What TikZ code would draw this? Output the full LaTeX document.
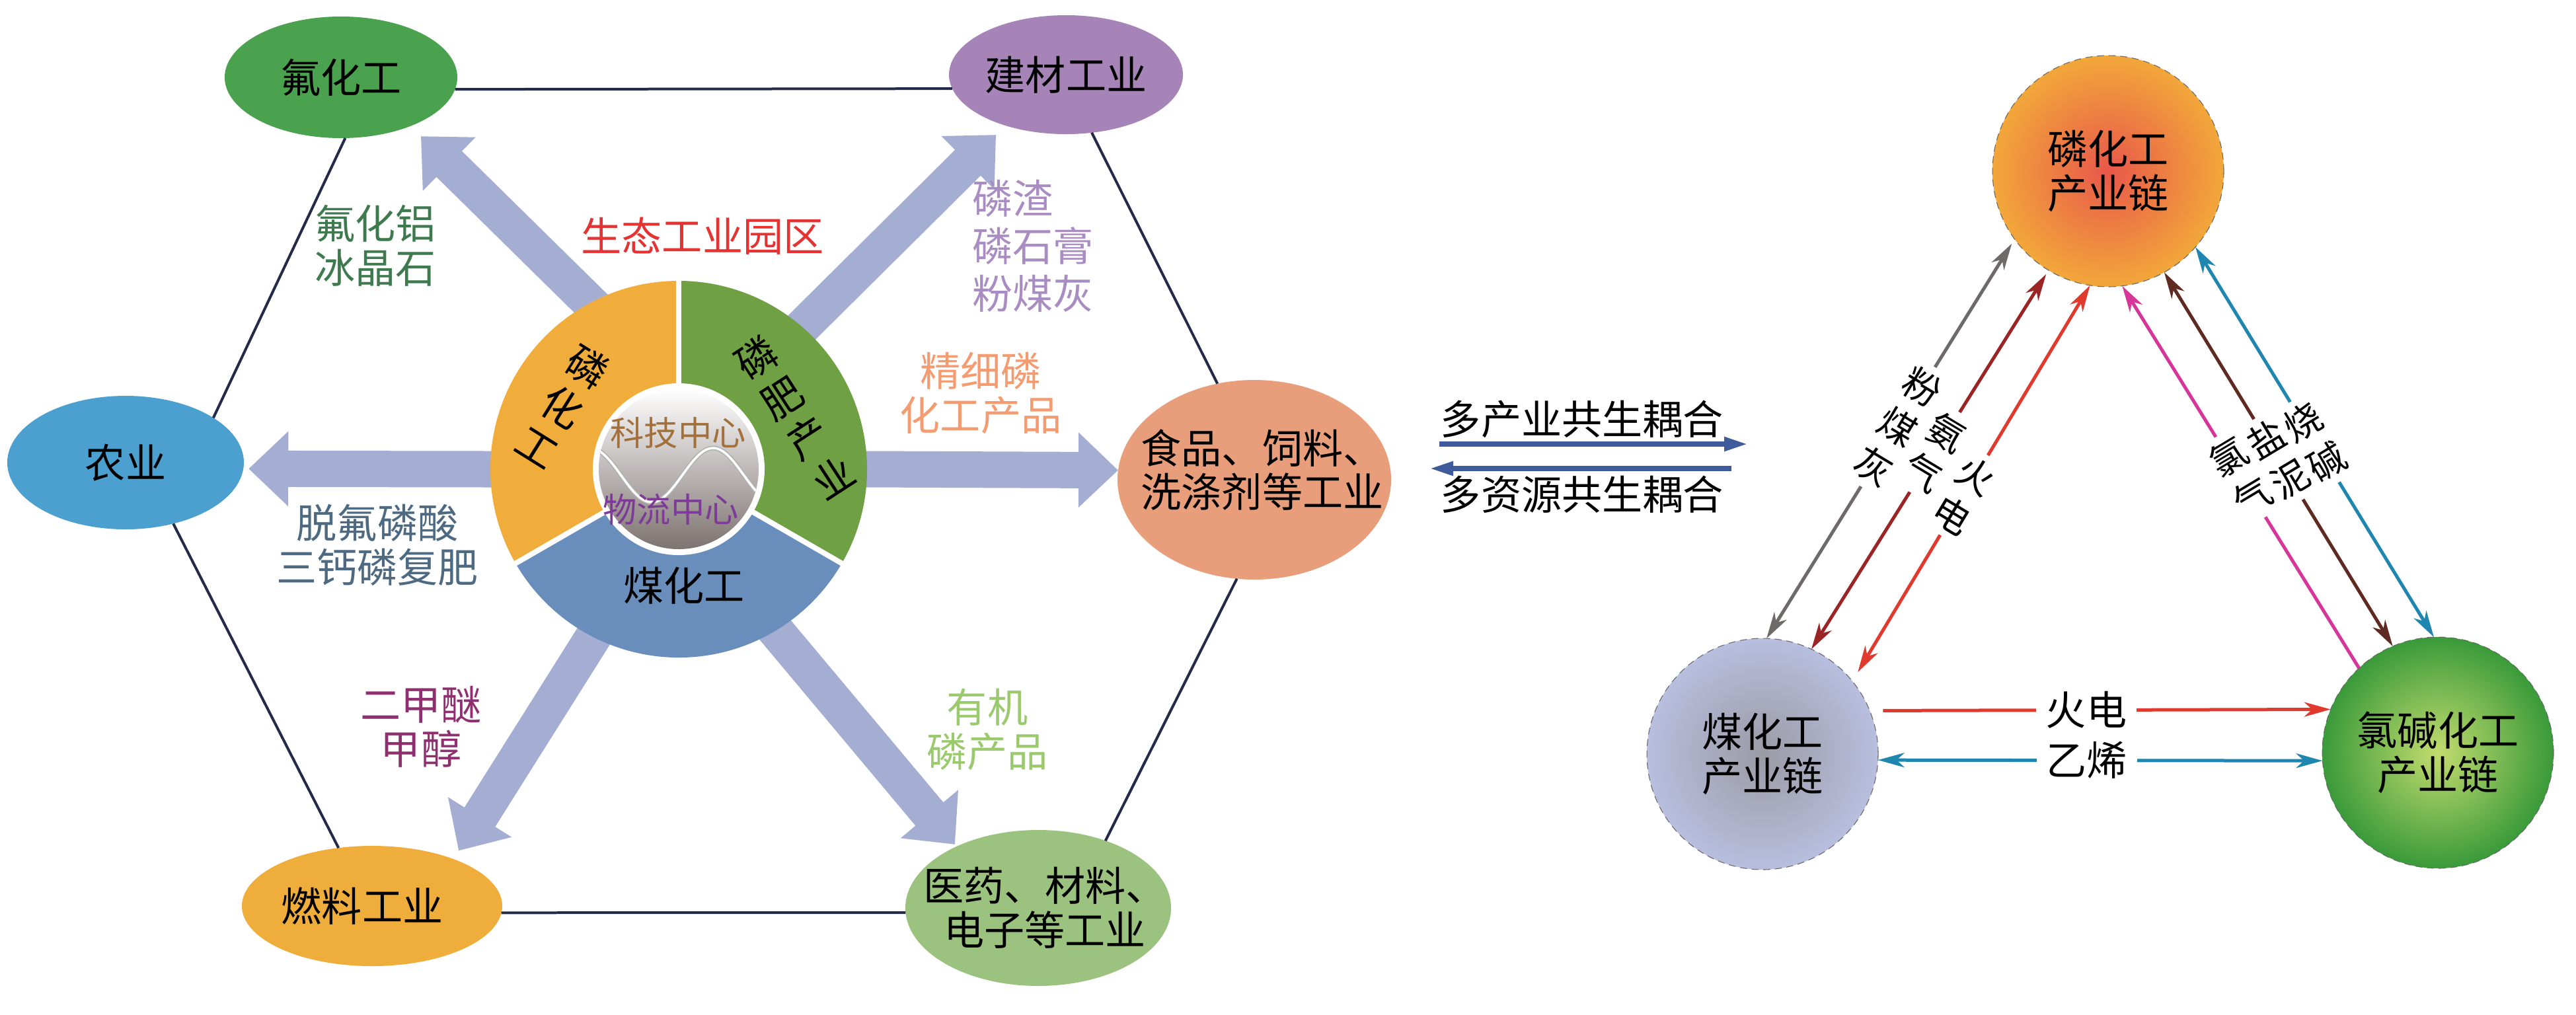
\documentclass[tikz,border=0pt]{standalone}
\usepackage{fontspec}
\usetikzlibrary{arrows.meta, shapes.geometric, positioning}
\newfontfamily\cjk{Noto Sans CJK SC}
\newcommand\zh{\cjk\fontsize{17.4pt}{19pt}\selectfont}
\newcommand\zhv{\cjk\fontsize{17.4pt}{20.5pt}\selectfont}
\newcommand\zhl{\cjk\fontsize{16pt}{20pt}\selectfont}
\newcommand\zhs{\cjk\fontsize{14.6pt}{17pt}\selectfont}

\definecolor{hexln}{RGB}{35,43,72}
\definecolor{pale}{RGB}{164,174,211}
\definecolor{fluc}{RGB}{74,161,78}
\definecolor{bldc}{RGB}{167,132,183}
\definecolor{agrc}{RGB}{76,160,207}
\definecolor{fodc}{RGB}{233,158,123}
\definecolor{fuec}{RGB}{239,174,60}
\definecolor{medc}{RGB}{155,194,126}
\definecolor{orng}{RGB}{240,173,60}
\definecolor{grn}{RGB}{112,160,68}
\definecolor{blu}{RGB}{106,142,188}
\definecolor{innermid}{RGB}{232,230,229}
\definecolor{innerbot}{RGB}{125,115,112}
\definecolor{tfl}{RGB}{63,122,79}
\definecolor{tred}{RGB}{229,50,50}
\definecolor{tbld}{RGB}{169,141,194}
\definecolor{tfod}{RGB}{243,155,113}
\definecolor{tagr}{RGB}{77,106,130}
\definecolor{tfue}{RGB}{142,48,112}
\definecolor{tmed}{RGB}{155,201,110}
\definecolor{tsci}{RGB}{162,112,60}
\definecolor{tlog}{RGB}{125,59,151}
\definecolor{cpl}{RGB}{63,91,156}
\definecolor{lgry}{RGB}{110,106,106}
\definecolor{ldrd}{RGB}{155,37,37}
\definecolor{lred}{RGB}{224,58,46}
\definecolor{lmag}{RGB}{214,53,154}
\definecolor{lbrn}{RGB}{94,42,34}
\definecolor{ltea}{RGB}{31,134,176}

\tikzset{
  ell/.style={ellipse, inner sep=0pt, outer sep=0pt},
  hexline/.style={hexln, line width=0.04cm},
  bigarrow/.style={pale, line width=0.55cm, -{Triangle[width=1.1cm, length=0.6cm]}, shorten <=-0.4cm},
  couple/.style={cpl, line width=0.08cm, -{Triangle[width=0.2cm, length=0.36cm]}},
  chainc/.style={circle, minimum size=3.5cm, inner sep=0pt, outer sep=0pt, draw=black!60, densely dashed, line width=0.3pt, align=center},
  link/.style={line width=0.05cm},
  lbl/.style={fill=white, text=black, align=center, font=\zhl, inner xsep=0pt, inner ysep=0.1cm},
  blbl/.style={fill=white, text=black, inner xsep=0.15cm, inner ysep=0pt},
  >={Stealth[length=0.4cm, width=0.22cm, inset=0.12cm]}
}

\begin{document}
\begin{tikzpicture}[every node/.style={font=\zh, inner sep=1pt}]
\useasboundingbox (0,0) rectangle (38.98,-15.35);
\fill[white] (0,0) rectangle (38.98,-15.35);

% left: industries round the park
\node[ell, fill=fluc, minimum width=3.52cm, minimum height=1.84cm, label={center:氟化工}] (fluoro) at (5.16,-1.17) {};
\node[ell, fill=bldc, minimum width=3.54cm, minimum height=1.80cm, label={center:建材工业}] (build) at (16.13,-1.13) {};
\node[ell, fill=agrc, minimum width=3.58cm, minimum height=2.02cm, label={center:农业}] (agri) at (1.90,-7.00) {};
\node[ell, fill=fodc, minimum width=4.14cm, minimum height=3.02cm,
  label={[align=center, xshift=0.12cm, yshift=0.15cm]center:{食品、饲料、\\洗涤剂等工业}}] (food) at (18.98,-7.26) {};
\node[ell, fill=fuec, minimum width=3.94cm, minimum height=1.82cm, label={[xshift=-0.15cm]center:燃料工业}] (fuel) at (5.63,-13.71) {};
\node[ell, fill=medc, minimum width=4.02cm, minimum height=2.36cm,
  label={[align=center, xshift=0.1cm]center:{医药、材料、\\电子等工业}}] (med) at (15.71,-13.74) {};
\node[circle, minimum size=5.7cm, inner sep=0pt, outer sep=0pt] (ring) at (10.27,-7.10) {};

\foreach \a/\p/\b/\q in {fluoro/-6/build/187, build/-66/food/111, food/-100/med/45,
                         med/182/fuel/-3, fuel/120/agri/-52, agri/27/fluoro/-86}
  \draw[hexline] (\a.\p) -- (\b.\q);

\foreach \t/\p/\q/\s in {fluoro/118/-35/0.22, build/49/-140/0.20, agri/180/-3/0.08,
                         food/0/176/0, fuel/-117/30/0.15, med/-59/143/0.04}
  \draw[bigarrow, shorten >=\s cm] (ring.\p) -- (\t.\q);

% the park
\fill[orng] (ring.center) -- ++(90:2.85) arc[start angle=90, end angle=210, radius=2.85] -- cycle;
\fill[blu] (ring.center) -- ++(210:2.85) arc[start angle=210, end angle=330, radius=2.85] -- cycle;
\fill[grn] (ring.center) -- ++(-30:2.85) arc[start angle=-30, end angle=90, radius=2.85] -- cycle;
\foreach \a in {90,210,330}
  \draw[white, line width=0.08cm] (ring.center) -- ++(\a:2.9);
\fill[white] (ring.center) circle (1.3);
\begin{scope}
  \clip (ring.center) circle (1.21);
  \shade[top color=white, middle color=innermid, bottom color=innerbot] (ring.center) circle (1.21);
  \draw[gray!60, line width=0.07cm] plot[domain=8.8:11.7, samples=80, smooth] (\x, {-7.19-0.41*cos(deg(2*pi*(\x-9.86)/1.86))});
  \draw[white, line width=0.035cm] plot[domain=8.8:11.7, samples=80, smooth] (\x, {-7.19-0.41*cos(deg(2*pi*(\x-9.86)/1.86))});
\end{scope}

\node[font=\zhv, align=center, rotate=-32] (rl) at (8.52,-6.14) {磷\\化\\工};
\node[font=\zhv, align=center, rotate=33] (rr) at (12.02,-6.31) {磷\\肥\\产\\业};
\node (rb) at (10.35,-8.86) {煤化工};
\node[font=\zhs, text=tsci] (sci) at (10.26,-6.55) {科技中心};
\node[font=\zhs, text=tlog] (logi) at (10.15,-7.71) {物流中心};

\node[text=tred] (park) at (10.63,-3.57) {生态工业园区};
\node[text=tfl, align=center] (alf) at (5.68,-3.72) {氟化铝\\冰晶石};
\node[text=tbld, align=left, font=\zhv] (slag) at (15.63,-3.72) {磷渣\\磷石膏\\粉煤灰};
\node[text=tfod, align=center] (fine) at (14.84,-5.95) {精细磷\\化工产品};
\node[text=tagr, align=center] (defl) at (5.71,-8.25) {脱氟磷酸\\三钙磷复肥};
\node[text=tfue, align=center] (dme) at (6.37,-11.0) {二甲醚\\甲醇};
\node[text=tmed, align=center] (orgp) at (14.94,-11.04) {有机\\磷产品};

% coupling
\node (mi) at (23.94,-6.34) {多产业共生耦合};
\node (mr) at (23.94,-7.48) {多资源共生耦合};
\coordinate (m1) at (21.78,-6.72);
\coordinate (m2) at (26.45,-6.72);
\coordinate (m3) at (26.20,-7.09);
\coordinate (m4) at (21.63,-7.09);
\draw[couple] (m1) -- (m2);
\draw[couple] (m3) -- (m4);

% right: three chains
\node[chainc, inner color={rgb,255:red,232;green,87;blue,74}, outer color={rgb,255:red,242;green,167;blue,58}] (phos) at (31.90,-2.59) {磷化工\\产业链};
\node[chainc, inner color={rgb,255:red,155;green,155;blue,165}, outer color={rgb,255:red,184;green,190;blue,222}] (coal) at (26.67,-11.41) {煤化工\\产业链};
\node[chainc, inner color={rgb,255:red,195;green,220;blue,110}, outer color={rgb,255:red,58;green,154;blue,58}] (chlor) at (36.89,-11.39) {氯碱化工\\产业链};

\draw[lgry, link, <->, shorten >=0.08cm] (coal.88) -- node[lbl, rotate=-31, pos=0.53] (lb1) {粉\\煤\\灰} (phos.216);
\draw[ldrd, link, <->, shorten >=0.07cm] (coal.65) -- node[lbl, rotate=-31, pos=0.52] (lb2) {氨\\气} (phos.239);
\draw[lred, link, <->, shorten <=0.16cm] (coal.39) -- node[lbl, rotate=-31, pos=0.47] (lb3) {火\\电} (phos.261);
\draw[lmag, link, ->] (chlor.133) -- node[lbl, rotate=31] (lb4) {氯\\气} (phos.277);
\draw[lbrn, link, <->] (chlor.113) -- node[lbl, rotate=31] (lb5) {盐\\泥} (phos.299);
\draw[ltea, link, <->] (chlor.92) -- node[lbl, rotate=31] (lb6) {烧\\碱} (phos.319);
\draw[lred, link, ->, shorten <=0.2cm] (coal.22) -- node[blbl, pos=0.47] (lb7) {火电} (chlor.158);
\draw[ltea, link, <->] (coal.-3) -- node[blbl, pos=0.47] (lb8) {乙烯} (chlor.184);
\end{tikzpicture}
\end{document}
